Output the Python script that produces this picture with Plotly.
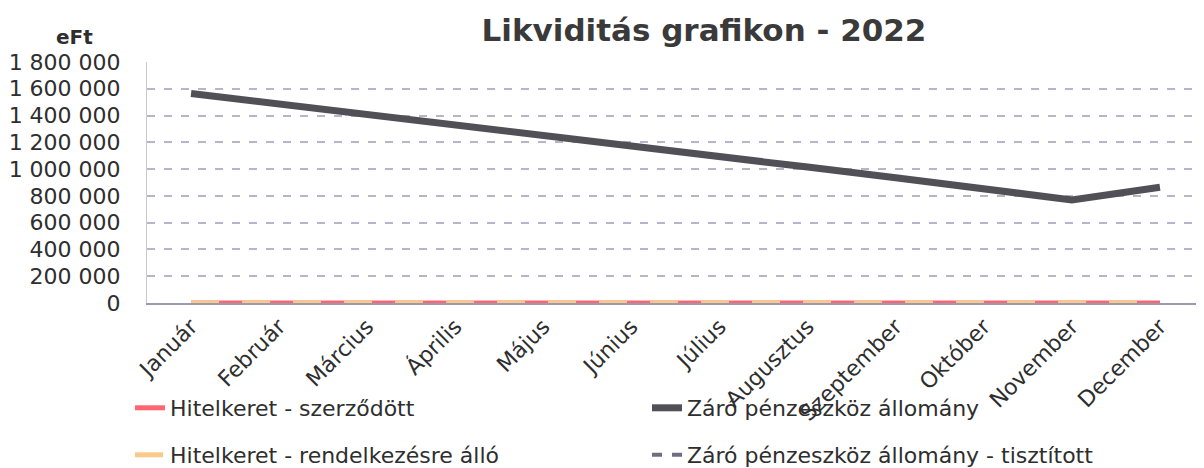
import plotly.graph_objects as go

months = ["Január", "Február", "Március", "Április", "Május", "Június",
          "Július", "Augusztus", "Szeptember", "Október", "November", "December"]
hitelkeret_szerzodott = [0] * 12
hitelkeret_rendelkezesre = [0] * 12
zaro_allomany = [1565000, 1488000, 1410000, 1335000, 1255000, 1175000,
                 1092000, 1015000, 935000, 852000, 770000, 865000]
zaro_tisztitott = [0] * 12
y_tickvals = [0, 200000, 400000, 600000, 800000, 1000000, 1200000, 1400000, 1600000, 1800000]
y_ticktext = ["0", "200 000", "400 000", "600 000", "800 000", "1 000 000",
              "1 200 000", "1 400 000", "1 600 000", "1 800 000"]

FONT = "DejaVu Sans"
TXT = "#2e2e2e"

fig = go.Figure()
fig.add_trace(go.Scatter(x=months, y=zaro_tisztitott, mode="lines",
                         name="Záró pénzeszköz állomány - tisztított",
                         line=dict(color="#6e6e80", width=4, dash="10px,10px"),
                         legend="legend5"))
fig.add_trace(go.Scatter(x=months, y=hitelkeret_szerzodott, mode="lines",
                         name="Hitelkeret - szerződött",
                         line=dict(color="#ff6670", width=5),
                         legend="legend2"))
fig.add_trace(go.Scatter(x=months, y=hitelkeret_rendelkezesre, mode="lines",
                         name="Hitelkeret - rendelkezésre álló",
                         line=dict(color="#fbc98a", width=5, dash="28px,23px"),
                         legend="legend4"))
fig.add_trace(go.Scatter(x=months, y=zaro_allomany, mode="lines",
                         name="Záró pénzeszköz állomány",
                         line=dict(color="#505056", width=7),
                         legend="legend3"))

# the page body has an 8px margin, so the figure is 8px smaller and coordinates
# below are in figure pixels
W, H = 1196, 460
L, R, T, B = 139, 0, 54, 165
pw, ph = W - L - R, H - T - B

def px_x(x):
    return (x - L) / pw

def px_y(y):
    return (H - B - y) / ph

leg_common = dict(orientation="h", font=dict(family=FONT, size=22, color=TXT),
                  bgcolor="rgba(0,0,0,0)", xanchor="left", yanchor="middle")

fig.update_layout(
    width=W, height=H,
    margin=dict(l=L, r=R, t=T, b=B, pad=0, autoexpand=False),
    paper_bgcolor="white", plot_bgcolor="white",
    font=dict(family=FONT, size=22, color=TXT),
    showlegend=True,
    title=dict(text="<b>Likviditás grafikon - 2022</b>",
               font=dict(family=FONT, size=31, color="#3a3a3a"),
               x=(475 + 917) / 2 / W, xanchor="center",
               y=1 - 22 / H, yanchor="middle"),
    xaxis=dict(type="category", tickangle=-45, showgrid=False,
               showline=True, linecolor="#9a9ab4", linewidth=2,
               ticks="", tickfont=dict(family=FONT, size=22, color=TXT),
               range=[-0.5, 11.5], fixedrange=True, automargin=False),
    yaxis=dict(range=[0, 1800000], tickvals=y_tickvals, ticktext=y_ticktext,
               showgrid=True, gridcolor="#b6b6ca", gridwidth=2, griddash="8px,9px",
               showline=True, linecolor="#c8c8d0", linewidth=1,
               ticks="", ticklabelstandoff=21, zeroline=False, automargin=False,
               tickfont=dict(family=FONT, size=22, color=TXT)),
    legend=dict(visible=False),
    legend2=dict(x=px_x(122), y=px_y(400), **leg_common),
    legend3=dict(x=px_x(639), y=px_y(400), **leg_common),
    legend4=dict(x=px_x(122), y=px_y(447), **leg_common),
    legend5=dict(x=px_x(639), y=px_y(447), **leg_common),
    annotations=[dict(text="<b>eFt</b>", xref="paper", yref="paper",
                      x=px_x(66), y=px_y(29), xanchor="center", yanchor="middle",
                      showarrow=False, font=dict(family=FONT, size=20, color=TXT))],
)

fig.write_html("out.html")
